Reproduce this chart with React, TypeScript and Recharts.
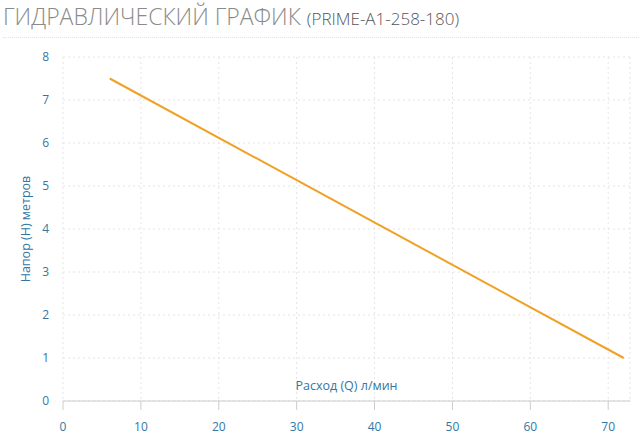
import React from 'react';
import { LineChart, Line, XAxis, YAxis, CartesianGrid, Label } from 'recharts';

const flowQ = [6, 72];
const headH = [7.5, 1.0];
const xTicks = [0, 10, 20, 30, 40, 50, 60, 70];
const yTicks = [0, 1, 2, 3, 4, 5, 6, 7, 8];
const titleMain = 'ГИДРАВЛИЧЕСКИЙ ГРАФИК';
const titleModel = '(PRIME-A1-258-180)';
const xLabel = 'Расход (Q) л/мин';
const yLabel = 'Напор (H) метров';

const data = flowQ.map((q, i) => ({ q, h: headH[i] }));

const FONT = '"Open Sans", "DejaVu Sans", sans-serif';
const TICK_COLOR = '#3277a3';

export default function App() {
  return (
    <div style={{ position: 'absolute', left: 0, top: 0, width: 643, height: 436, background: '#fff', fontFamily: FONT }}>
      <div style={{ position: 'absolute', left: 3, top: 0, whiteSpace: 'nowrap' }}>
        <span style={{ fontSize: 23, fontWeight: 300, color: '#8a8a8a' }}>{titleMain}</span>
        <span style={{ fontSize: 17, fontWeight: 300, color: '#555', marginLeft: 6 }}>{titleModel}</span>
      </div>
      <div style={{ position: 'absolute', left: 3, top: 37, width: 636, borderTop: '1px dotted #e2e2e2' }} />
      <div style={{ position: 'absolute', left: 0, top: 0 }}>
        <LineChart width={643} height={436} data={data} margin={{ top: 57, right: 13, bottom: 0, left: 0 }}>
          <CartesianGrid stroke="#e4e4e4" strokeDasharray="2 3" />
          <XAxis
            dataKey="q"
            type="number"
            domain={[0, 72.8]}
            ticks={xTicks}
            allowDataOverflow
            height={35}
            axisLine={{ stroke: '#ccc' }}
            tickLine={{ stroke: '#ccc' }}
            tickSize={9}
            tickMargin={12}
            tick={{ fill: TICK_COLOR, fontSize: 12, fontFamily: FONT }}
          >
            <Label
              content={(props: any) => {
                const vb = props.viewBox || {};
                return (
                  <text x={vb.x + vb.width / 2} y={vb.y - 11} textAnchor="middle" fill={TICK_COLOR} fontSize={12.5} fontFamily={FONT}>
                    {xLabel}
                  </text>
                );
              }}
            />
          </XAxis>
          <YAxis
            type="number"
            domain={[0, 8]}
            ticks={yTicks}
            width={63}
            axisLine={false}
            tickLine={false}
            tickMargin={8}
            tick={{ fill: TICK_COLOR, fontSize: 12, fontFamily: FONT }}
          >
            <Label
              content={(props: any) => {
                const vb = props.viewBox || {};
                const cx = 29.5;
                const cy = vb.y + vb.height / 2;
                return (
                  <text x={cx} y={cy} transform={`rotate(-90 ${cx} ${cy})`} textAnchor="middle" fill={TICK_COLOR} fontSize={12.5} fontFamily={FONT}>
                    {yLabel}
                  </text>
                );
              }}
            />
          </YAxis>
          <Line dataKey="h" stroke="#f0a125" strokeWidth={2} dot={false} isAnimationActive={false} />
        </LineChart>
      </div>
    </div>
  );
}
